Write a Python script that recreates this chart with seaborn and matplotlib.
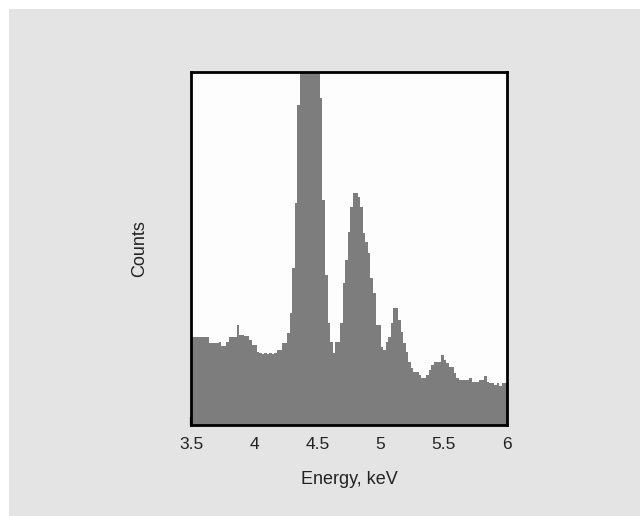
import numpy as np
import pandas as pd
import matplotlib
matplotlib.use("Agg")
import matplotlib.pyplot as plt
from matplotlib.patches import Rectangle
import seaborn as sns

# Energy bins (keV) and counts (arbitrary units)
bin_start = 3.5
bin_stop = 6.0
bin_width = 0.02
counts = [
    88, 88, 88, 88, 88, 88, 88, 82, 82, 82,
    82, 83, 79, 79, 83, 88, 88, 88, 100, 90,
    90, 89, 89, 85, 80, 80, 73, 72, 71, 72,
    71, 72, 71, 72, 75, 75, 82, 82, 92, 112,
    157, 222, 320, 400, 460, 500, 520, 510, 470, 420,
    380, 327, 225, 150, 102, 83, 72, 83, 83, 102,
    142, 165, 193, 218, 232, 232, 228, 218, 192, 183,
    172, 147, 132, 100, 100, 78, 75, 83, 88, 102,
    117, 117, 105, 93, 82, 73, 63, 57, 53, 53,
    50, 47, 47, 50, 55, 60, 63, 63, 63, 70,
    65, 62, 58, 58, 52, 47, 45, 45, 45, 45,
    47, 43, 43, 43, 45, 45, 49, 43, 42, 42,
    40, 42, 39, 42, 42,
]
centers = bin_start + bin_width * (np.arange(len(counts)) + 0.5)
xticks = [3.5, 4, 4.5, 5, 5.5, 6]
xticklabels = ["3.5", "4", "4.5", "5", "5.5", "6"]

df = pd.DataFrame({"energy": centers, "counts": np.asarray(counts, dtype=float)})

sns.set_style("white")
plt.rcParams["font.family"] = ["Liberation Sans", "DejaVu Sans"]

fig = plt.figure(figsize=(6.4, 5.16), dpi=100)
fig.patch.set_facecolor("white")
fig.patches.append(Rectangle((9 / 640, 0), 1 - 9 / 640, 1 - 9 / 516,
                             transform=fig.transFigure, facecolor="#e4e4e4",
                             edgecolor="none", zorder=-10))

ax = fig.add_axes([191 / 640, 1 - 425 / 516, 316 / 640, 353 / 516])
ax.set_facecolor("#fdfdfd")

sns.histplot(data=df, x="energy", weights="counts", binwidth=bin_width,
             binrange=(bin_start, bin_stop), element="step",
             fill=True, color="#7d7d7d", alpha=1.0, linewidth=0, ax=ax)

ax.set_xlim(3.5, 6)
ax.set_ylim(0, 353)
ax.set_xticks(xticks)
ax.set_xticklabels(xticklabels)
ax.set_yticks([])
ax.tick_params(axis="x", direction="in", length=6, width=1.6, color="black",
               labelsize=12.5, pad=8.5, bottom=True, labelcolor="#222222")
for s in ax.spines.values():
    s.set_visible(True)
    s.set_color("black")
    s.set_linewidth(2)
    s.set_zorder(5)

ax.set_xlabel("Energy, keV", fontsize=13, labelpad=14, color="#222222")
ax.set_ylabel("Counts", fontsize=13, labelpad=31, color="#222222")

fig.savefig("out.png", dpi=100)
